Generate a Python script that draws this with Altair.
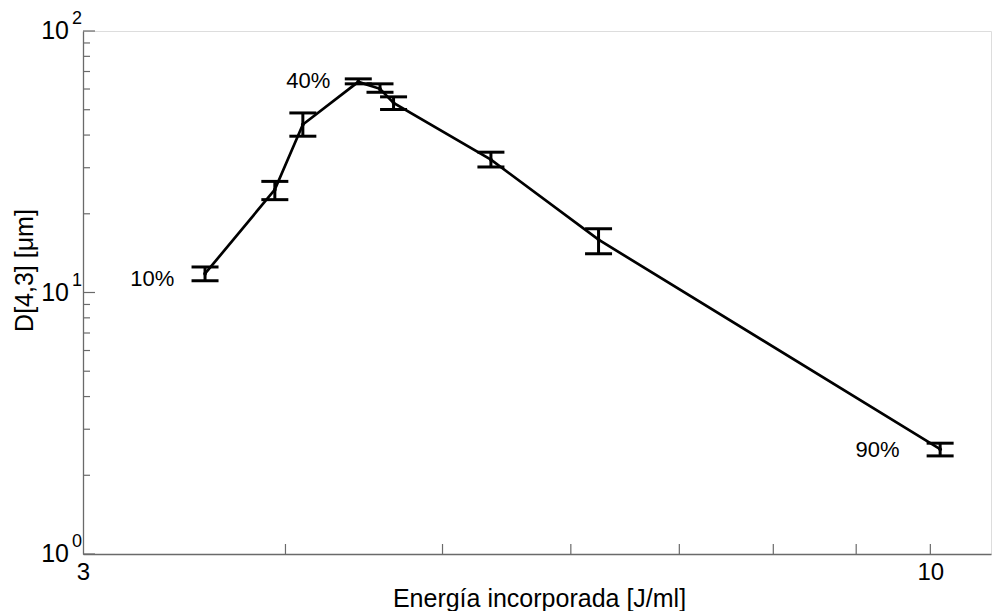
import altair as alt
import pandas as pd

# Data
energy = [3.568, 3.940, 4.10, 4.436, 4.575, 4.664, 5.356, 6.241, 10.14]
d43 = [11.80, 24.74, 43.9, 63.9, 60.1, 53.1, 32.2, 15.92, 2.517]
d43_hi = [12.52, 26.6, 48.6, 65.6, 62.8, 56.0, 34.4, 17.54, 2.653]
d43_lo = [11.09, 22.65, 39.6, 62.8, 58.3, 50.1, 30.2, 14.07, 2.372]

label_text = ["10%", "40%", "90%"]
label_x = [3.208, 4.004, 8.99]
label_y = [10.55, 60.6, 2.345]

x_ticks = [4, 5, 6, 7, 8, 9, 10]
x_labels = [3, 10]
y_major = [1, 10, 100]
y_exp = ["0", "1", "2"]
y_minor = [2, 3, 4, 5, 6, 7, 8, 9, 20, 30, 40, 50, 60, 70, 80, 90]

FONT = "Liberation Sans"
W, H = 908, 523
AX = "#6a6a6a"

df = pd.DataFrame({"e": energy, "d": d43, "hi": d43_hi, "lo": d43_lo})
lab = pd.DataFrame({"t": label_text, "x": label_x, "y": label_y})
xt = pd.DataFrame({"x": x_ticks})
ymaj = pd.DataFrame({"y": y_major, "exp": y_exp})
ymin = pd.DataFrame({"y": y_minor})

xs = alt.Scale(type="log", domain=[3, 10.9], nice=False, zero=False)
ys = alt.Scale(type="log", domain=[1, 100], nice=False, zero=False)

x_axis = alt.Axis(
    values=x_labels, grid=False, ticks=False, tickSize=0, labelFontSize=24,
    labelFont=FONT, labelColor="black", labelPadding=6, domainColor=AX,
    domainWidth=1.3, title="Energía incorporada [J/ml]", titleFont=FONT,
    titleFontSize=25, titleFontWeight="normal", titleColor="black",
    titleX=456, titleY=52, titleBaseline="alphabetic", titleAlign="center",
    format="d", labelFlush=False,
)
y_axis = alt.Axis(
    grid=False, ticks=False, labels=False, domainColor=AX, domainWidth=1.3,
    title="D[4,3] [μm]", titleFont=FONT, titleFontSize=25,
    titleFontWeight="normal", titleColor="black", titleAngle=270,
    titleX=-51, titleY=239, titleBaseline="alphabetic", titleAlign="center",
)

base = alt.Chart(df)

line = base.mark_line(color="black", strokeWidth=2.7).encode(
    x=alt.X("e:Q", scale=xs, axis=x_axis),
    y=alt.Y("d:Q", scale=ys, axis=y_axis),
)
dots = base.mark_point(color="black", filled=True, size=14, opacity=1).encode(
    x=alt.X("e:Q", scale=xs), y=alt.Y("d:Q", scale=ys)
)
vbar = base.mark_rule(color="black", strokeWidth=3).encode(
    x=alt.X("e:Q", scale=xs), y=alt.Y("lo:Q", scale=ys), y2="hi:Q"
)
cap_hi = base.mark_tick(color="black", opacity=1, orient="horizontal", size=27, thickness=3).encode(
    x=alt.X("e:Q", scale=xs), y=alt.Y("hi:Q", scale=ys)
)
cap_lo = base.mark_tick(color="black", opacity=1, orient="horizontal", size=27, thickness=3).encode(
    x=alt.X("e:Q", scale=xs), y=alt.Y("lo:Q", scale=ys)
)

labels = alt.Chart(lab).mark_text(
    align="left", baseline="alphabetic", font=FONT, fontSize=22, color="black"
).encode(x=alt.X("x:Q", scale=xs), y=alt.Y("y:Q", scale=ys), text="t:N")

xtick = alt.Chart(xt).mark_rule(color=AX, strokeWidth=1.2).encode(
    x=alt.X("x:Q", scale=xs), y=alt.value(H), y2=alt.value(H - 10)
)
ymaj_tick = alt.Chart(ymaj).mark_rule(color=AX, strokeWidth=1.2).encode(
    y=alt.Y("y:Q", scale=ys), x=alt.value(0), x2=alt.value(12)
)
ymin_tick = alt.Chart(ymin).mark_rule(color=AX, strokeWidth=1.2).encode(
    y=alt.Y("y:Q", scale=ys), x=alt.value(0), x2=alt.value(7)
)
ylab_base = alt.Chart(ymaj).mark_text(
    align="right", baseline="middle", font=FONT, fontSize=25, color="black"
).encode(y=alt.Y("y:Q", scale=ys), x=alt.value(-14), text=alt.value("10"))
ylab_exp = alt.Chart(ymaj).mark_text(
    align="left", baseline="middle", font=FONT, fontSize=18, color="black", dy=-12
).encode(y=alt.Y("y:Q", scale=ys), x=alt.value(-11), text="exp:N")

chart = alt.layer(
    xtick, ymaj_tick, ymin_tick, line, vbar, cap_hi, cap_lo, dots, labels,
    ylab_base, ylab_exp,
).properties(
    width=W, height=H,
    autosize=alt.AutoSizeParams(type="none"),
    padding={"left": 83, "top": 31, "right": 2, "bottom": 57},
).configure_view(stroke=None).configure(background="white")

chart.save("out.html", embed_options={"renderer": "svg", "actions": False})
